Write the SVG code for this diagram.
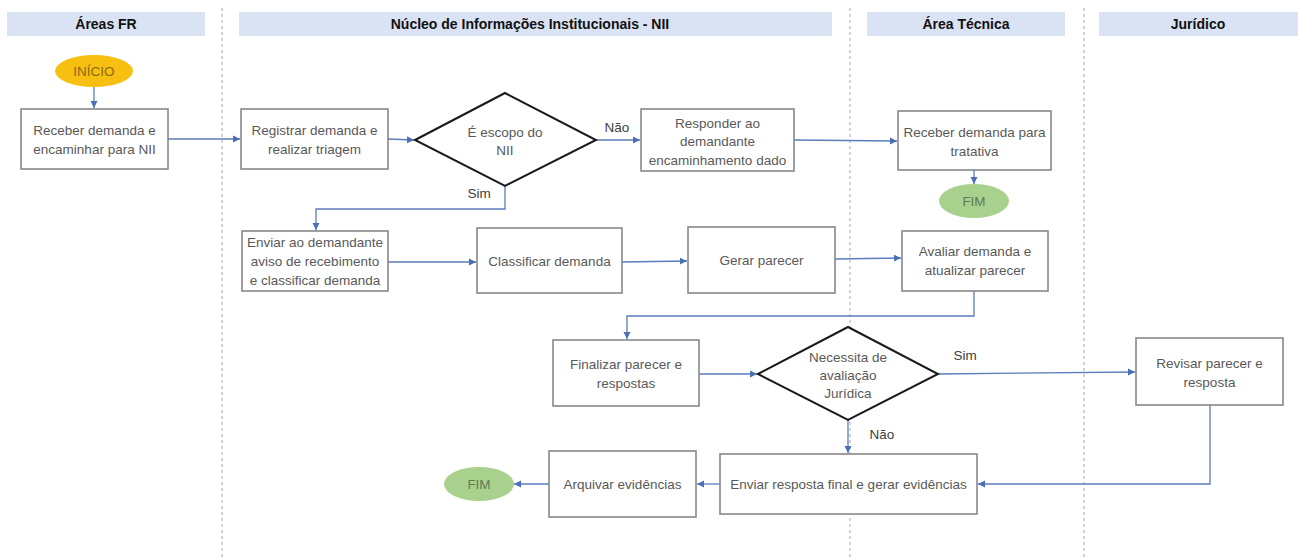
<svg xmlns="http://www.w3.org/2000/svg" width="1301" height="560" viewBox="0 0 1301 560">
<style>
.hdr{fill:#dae3f3}
.ht{font-family:"Liberation Sans",Arial,sans-serif;font-size:14px;font-weight:bold;fill:#111;text-anchor:middle}
.lane{stroke:#a6a6a6;stroke-width:1;stroke-dasharray:3 3;fill:none}
.box{fill:#fff;stroke:#808080;stroke-width:1.5}
.dia{fill:#fff;stroke:#1a1a1a;stroke-width:2}
.t{font-family:"Liberation Sans",Arial,sans-serif;font-size:13.5px;fill:#595959;text-anchor:middle}
.lbl{font-family:"Liberation Sans",Arial,sans-serif;font-size:13.5px;fill:#404040;text-anchor:middle}
.c{fill:none;stroke:#5b7cbd;stroke-width:1.3;marker-end:url(#ah)}
</style>
<defs>
<marker id="ah" markerWidth="8" markerHeight="8" refX="7" refY="4" orient="auto" markerUnits="userSpaceOnUse">
<path d="M0,0.5 L7,4 L0,7.5 Z" fill="#4a6fb5"/>
</marker>
</defs>
<rect width="1301" height="560" fill="#fff"/>
<g id="lanes">
<rect class="hdr" x="7" y="12" width="198" height="24"/>
<text class="ht" x="106" y="29">Áreas FR</text>
<rect class="hdr" x="239" y="12" width="593" height="24"/>
<text class="ht" x="530" y="29">Núcleo de Informações Institucionais - NII</text>
<rect class="hdr" x="867" y="12" width="198" height="24"/>
<text class="ht" x="966" y="29">Área Técnica</text>
<rect class="hdr" x="1099" y="12" width="199" height="24"/>
<text class="ht" x="1198" y="29">Jurídico</text>
<line class="lane" x1="222" y1="8" x2="222" y2="560"/>
<line class="lane" x1="850" y1="8" x2="850" y2="560"/>
<line class="lane" x1="1084" y1="8" x2="1084" y2="560"/>
</g>
<g id="connectors">
<path class="c" d="M94,87 V108"/>
<path class="c" d="M168,139 H240"/>
<path class="c" d="M388,139 L414,140"/>
<path class="c" d="M596,140 H640"/>
<text class="lbl" x="617" y="132">Não</text>
<path class="c" d="M794,140 L897,141"/>
<path class="c" d="M974,170 V184"/>
<path class="c" d="M505,186 V209 H316 V230"/>
<text class="lbl" x="479" y="198">Sim</text>
<path class="c" d="M388,262 H476"/>
<path class="c" d="M622,262 L687,261"/>
<path class="c" d="M835,259 L901,258"/>
<path class="c" d="M974,291 V316 H627 V339"/>
<path class="c" d="M699,374 H757"/>
<path class="c" d="M938,374 L1135,372"/>
<text class="lbl" x="965" y="360">Sim</text>
<path class="c" d="M848,420 V453"/>
<text class="lbl" x="882" y="439">Não</text>
<path class="c" d="M1210,405 V484 H978"/>
<path class="c" d="M720,484 H697"/>
<path class="c" d="M549,484 H514"/>
</g>
<g id="inicio">
<ellipse cx="94" cy="71" rx="39" ry="16" fill="#f7bf0f"/>
<text class="t" x="94" y="76" style="fill:#8a6a17">INÍCIO</text>
</g>
<g id="receber-fr">
<rect class="box" x="21" y="109" width="147" height="60"/>
<text class="t" x="94.5" y="135">Receber demanda e</text>
<text class="t" x="94.5" y="154">encaminhar para NII</text>
</g>
<g id="registrar">
<rect class="box" x="241" y="109" width="147" height="60"/>
<text class="t" x="314.5" y="135">Registrar demanda e</text>
<text class="t" x="314.5" y="154">realizar triagem</text>
</g>
<g id="escopo">
<polygon class="dia" points="415,140 505,93 596,140 505,186"/>
<text class="t" x="505" y="137">É escopo do</text>
<text class="t" x="505" y="155">NII</text>
</g>
<g id="responder">
<rect class="box" x="641" y="109" width="153" height="62"/>
<text class="t" x="717.5" y="128">Responder ao</text>
<text class="t" x="717.5" y="146">demandante</text>
<text class="t" x="717.5" y="165">encaminhamento dado</text>
</g>
<g id="receber-tec">
<rect class="box" x="898" y="111" width="153" height="59"/>
<text class="t" x="974.5" y="137">Receber demanda para</text>
<text class="t" x="974.5" y="156">tratativa</text>
</g>
<g id="fim1">
<ellipse cx="974" cy="201" rx="35" ry="17" fill="#a9d18e"/>
<text class="t" x="974" y="206" style="fill:#5f7a55">FIM</text>
</g>
<g id="enviar-aviso">
<rect class="box" x="242" y="231" width="146" height="60"/>
<text class="t" x="315" y="247">Enviar ao demandante</text>
<text class="t" x="315" y="266">aviso de recebimento</text>
<text class="t" x="315" y="285">e classificar demanda</text>
</g>
<g id="classificar">
<rect class="box" x="477" y="228" width="145" height="65"/>
<text class="t" x="549.5" y="266">Classificar demanda</text>
</g>
<g id="gerar">
<rect class="box" x="688" y="227" width="147" height="66"/>
<text class="t" x="761.5" y="265">Gerar parecer</text>
</g>
<g id="avaliar">
<rect class="box" x="902" y="231" width="146" height="60"/>
<text class="t" x="975" y="256">Avaliar demanda e</text>
<text class="t" x="975" y="275">atualizar parecer</text>
</g>
<g id="finalizar">
<rect class="box" x="553" y="340" width="146" height="66"/>
<text class="t" x="626" y="369">Finalizar parecer e</text>
<text class="t" x="626" y="388">respostas</text>
</g>
<g id="juridica">
<polygon class="dia" points="758,374 848,327 938,374 848,420"/>
<text class="t" x="848" y="362">Necessita de</text>
<text class="t" x="848" y="380">avaliação</text>
<text class="t" x="848" y="398">Jurídica</text>
</g>
<g id="revisar">
<rect class="box" x="1136" y="338" width="147" height="67"/>
<text class="t" x="1209.5" y="368">Revisar parecer e</text>
<text class="t" x="1209.5" y="387">resposta</text>
</g>
<g id="enviar-final">
<rect class="box" x="720" y="454" width="257" height="60"/>
<text class="t" x="848.5" y="489">Enviar resposta final e gerar evidências</text>
</g>
<g id="arquivar">
<rect class="box" x="549" y="451" width="147" height="66"/>
<text class="t" x="622.5" y="489">Arquivar evidências</text>
</g>
<g id="fim2">
<ellipse cx="479" cy="484" rx="35" ry="17" fill="#a9d18e"/>
<text class="t" x="479" y="489" style="fill:#5f7a55">FIM</text>
</g>
</svg>
